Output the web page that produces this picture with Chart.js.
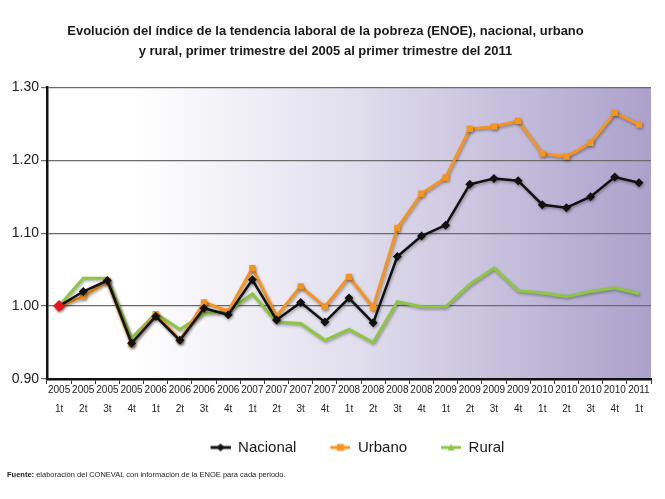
<!DOCTYPE html>
<html>
<head>
<meta charset="utf-8">
<script src="https://cdn.jsdelivr.net/npm/chart.js@4/dist/chart.umd.min.js"></script>
<style>
  html, body { margin: 0; padding: 0; background: #fff; }
  #wrap { position: relative; width: 665px; height: 499px; }
  #fuente { position: absolute; left: 7px; top: 470px; font: 7.5px "Liberation Sans", sans-serif; color: #222; white-space: nowrap; }
  #fuente b { font-weight: bold; }
</style>
</head>
<body>
<div id="wrap">
  <canvas id="grafica"></canvas>
  <div id="fuente"><b>Fuente:</b> elaboración del CONEVAL con información de la ENOE para cada periodo.</div>
</div>
<script>
// ---- datos ----
const anios      = ['2005','2005','2005','2005','2006','2006','2006','2006','2007','2007','2007','2007','2008','2008','2008','2008','2009','2009','2009','2009','2010','2010','2010','2010','2011'];
const trimestres = ['1t','2t','3t','4t','1t','2t','3t','4t','1t','2t','3t','4t','1t','2t','3t','4t','1t','2t','3t','4t','1t','2t','3t','4t','1t'];

const nacional = [1.000, 1.020, 1.035, 0.949, 0.986, 0.953, 0.997, 0.988, 1.036, 0.981, 1.005, 0.978, 1.011, 0.977, 1.068, 1.096, 1.111, 1.167, 1.175, 1.172, 1.139, 1.135, 1.150, 1.177, 1.169];
const urbano   = [1.000, 1.013, 1.034, 0.948, 0.989, 0.953, 1.005, 0.993, 1.052, 0.986, 1.027, 0.999, 1.040, 0.998, 1.107, 1.154, 1.176, 1.243, 1.246, 1.254, 1.209, 1.205, 1.224, 1.265, 1.249];
const rural    = [1.000, 1.038, 1.038, 0.956, 0.990, 0.968, 0.990, 0.993, 1.017, 0.978, 0.976, 0.953, 0.968, 0.950, 1.006, 0.999, 0.999, 1.030, 1.052, 1.021, 1.018, 1.013, 1.020, 1.025, 1.017];

const ticksY = [0.90, 1.00, 1.10, 1.20, 1.30];

const titulo = [
  'Evolución del índice de la tendencia laboral de la pobreza (ENOE), nacional, urbano',
  'y rural, primer trimestre del 2005 al primer trimestre del 2011'
];

const etiquetas = anios.map((a, i) => [a, trimestres[i]]);

// ---- icono de leyenda: linea con marcador (con hueco a la izquierda para separar items) ----
const HUECO = 24;
function iconoLeyenda(color, forma) {
  const c = document.createElement('canvas');
  c.width = HUECO + 20; c.height = 10;
  const g = c.getContext('2d');
  g.translate(HUECO, 0);
  g.strokeStyle = color;
  g.lineWidth = 3;
  g.beginPath(); g.moveTo(0, 5); g.lineTo(20, 5); g.stroke();
  g.fillStyle = color;
  if (forma === 'rombo') {
    g.beginPath(); g.moveTo(10, 1); g.lineTo(14, 5); g.lineTo(10, 9); g.lineTo(6, 5); g.closePath(); g.fill();
  } else if (forma === 'cuadro') {
    g.fillRect(6.5, 1.5, 7, 7);
  } else {
    g.beginPath(); g.moveTo(10, 1.5); g.lineTo(13.5, 8); g.lineTo(6.5, 8); g.closePath(); g.fill();
  }
  return c;
}

const iconos = [iconoLeyenda('#111', 'rombo'), iconoLeyenda('#f7941d', 'cuadro'), iconoLeyenda('#8dc63f', 'triangulo')];

// ---- fondo degradado del area del grafico ----
const fondoArea = {
  id: 'fondoArea',
  beforeDraw(chart) {
    const { ctx, chartArea: a } = chart;
    const grad = ctx.createLinearGradient(a.left, 0, a.right, 0);
    grad.addColorStop(0, '#ffffff');
    grad.addColorStop(0.14, '#ffffff');
    grad.addColorStop(0.5, '#e2dfee');
    grad.addColorStop(1, '#aba1cb');
    ctx.save();
    ctx.fillStyle = grad;
    ctx.fillRect(a.left, a.top, a.right - a.left, a.bottom - a.top);
    ctx.restore();
  }
};

// ---- sombra suave bajo las lineas ----
const sombraLineas = {
  id: 'sombraLineas',
  beforeDatasetsDraw(chart) {
    const ctx = chart.ctx;
    ctx.save();
    ctx.shadowColor = 'rgba(0,0,0,0.35)';
    ctx.shadowBlur = 3;
    ctx.shadowOffsetX = 1;
    ctx.shadowOffsetY = 1.5;
  },
  afterDatasetsDraw(chart) {
    chart.ctx.restore();
  }
};

// la leyenda del original no esta centrada: se corre a la derecha
const correrLeyenda = {
  id: 'correrLeyenda',
  afterLayout(chart) {
    if (chart.legend) {
      chart.legend.left += 20;
      chart.legend.right += 20;
    }
  }
};

const canvas = document.getElementById('grafica');
canvas.width = 665;
canvas.height = 499;
canvas.style.width = '665px';
canvas.style.height = '499px';

new Chart(canvas.getContext('2d'), {
  type: 'line',
  data: {
    labels: etiquetas,
    datasets: [
      {
        label: 'Nacional',
        data: nacional,
        borderColor: '#111111',
        backgroundColor: '#111111',
        borderWidth: 2.5,
        pointStyle: 'rectRot',
        pointRadius: nacional.map((v, i) => i === 0 ? 6 : 4.5),
        pointBackgroundColor: nacional.map((v, i) => i === 0 ? '#e8141c' : '#111111'),
        pointBorderColor: nacional.map((v, i) => i === 0 ? '#e8141c' : '#111111'),
        pointBorderWidth: 0,
        tension: 0,
        order: 0
      },
      {
        label: 'Urbano',
        data: urbano,
        borderColor: '#f7941d',
        backgroundColor: '#f7941d',
        borderWidth: 3,
        pointStyle: 'rect',
        pointRadius: 4.5,
        pointBorderWidth: 0,
        tension: 0,
        order: 1
      },
      {
        label: 'Rural',
        data: rural,
        borderColor: '#8dc63f',
        backgroundColor: '#8dc63f',
        borderWidth: 3,
        pointRadius: 0,
        tension: 0,
        order: 2
      }
    ]
  },
  options: {
    responsive: false,
    animation: false,
    devicePixelRatio: 1,
    layout: { padding: { left: 0, right: 14, top: 0, bottom: 34 } },
    plugins: {
      title: {
        display: true,
        text: titulo,
        color: '#1a1a1a',
        font: { family: '"Liberation Sans", sans-serif', size: 13, weight: 'bold', lineHeight: 1.55 },
        padding: { top: 21, bottom: 26 }
      },
      legend: {
        display: true,
        position: 'bottom',
        labels: {
          color: '#1a1a1a',
          font: { family: '"Liberation Sans", sans-serif', size: 15 },
          usePointStyle: true,
          pointStyleWidth: HUECO + 20,
          boxHeight: 10,
          padding: 10,
          generateLabels(chart) {
            return chart.data.datasets.map((ds, i) => ({
              text: ds.label,
              pointStyle: iconos[i],
              fillStyle: ds.borderColor,
              strokeStyle: ds.borderColor,
              lineWidth: 0,
              fontColor: '#1a1a1a',
              hidden: false,
              datasetIndex: i
            }));
          }
        }
      },
      tooltip: { enabled: false }
    },
    scales: {
      x: {
        offset: true,
        afterFit(s) { s.height = 51; },
        grid: { display: true, drawOnChartArea: false, drawTicks: true, tickLength: 5, offset: true, color: '#333', lineWidth: 1 },
        border: { display: true, color: '#111', width: 2.5 },
        ticks: {
          autoSkip: false,
          maxRotation: 0,
          minRotation: 0,
          padding: -3,
          color: '#222',
          font: { family: '"Liberation Sans", sans-serif', size: 10, lineHeight: 1.9 }
        }
      },
      y: {
        min: 0.9,
        max: 1.3,
        afterFit(s) { s.width = 47; },
        afterBuildTicks(s) { s.ticks = ticksY.map(v => ({ value: v })); },
        grid: { color: '#6b6b6b', lineWidth: 1.2, drawTicks: true, tickLength: 6 },
        border: { display: true, color: '#111', width: 2.5 },
        ticks: {
          padding: 2,
          color: '#222',
          font: { family: '"Liberation Sans", sans-serif', size: 14 },
          callback: v => Number(v).toFixed(2)
        }
      }
    }
  },
  plugins: [fondoArea, sombraLineas, correrLeyenda]
});
</script>
</body>
</html>
